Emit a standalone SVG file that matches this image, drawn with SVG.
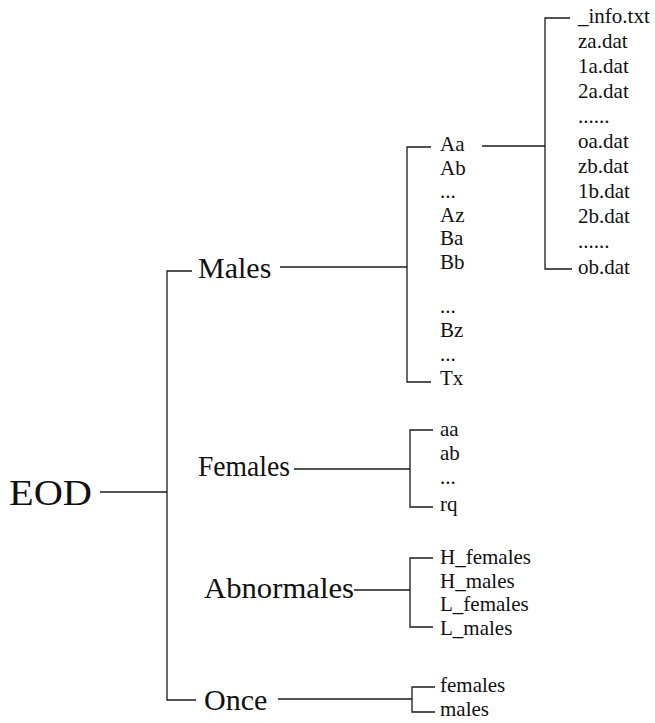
<svg xmlns="http://www.w3.org/2000/svg" width="655" height="723" viewBox="0 0 655 723">
  <style>
    text { font-family: "Liberation Serif", "Times New Roman", serif; fill: #111; }
    .root { font-size: 36px; }
    .cat { font-size: 30px; }
    .leaf { font-size: 21px; }
    .edge { fill: none; stroke: #1a1a1a; stroke-width: 1.3; }
  </style>
  <rect width="655" height="723" fill="#fff"/>

  <!-- connectors: horizontal links and square brackets -->
  <g id="connectors" class="edge">
    <path d="M100,492 H167"/>
    <path d="M192,271 H167 V700 H196"/>
    <path d="M280,267 H407"/>
    <path d="M431,147 H407 V382 H431"/>
    <path d="M482,146 H545"/>
    <path d="M570,18 H545 V269 H572"/>
    <path d="M294,469 H410"/>
    <path d="M433,430 H410 V507 H433"/>
    <path d="M354,590 H410"/>
    <path d="M433,558 H410 V627 H433"/>
    <path d="M278,699 H412"/>
    <path d="M435,687 H412 V712 H435"/>
  </g>

  <g id="eod"><text class="root" x="9" y="505" textLength="83" lengthAdjust="spacingAndGlyphs">EOD</text></g>

  <g id="males"><text class="cat" x="198" y="278">Males</text></g>
  <g id="males-list">
    <text class="leaf" x="440" y="151">Aa</text>
    <text class="leaf" x="440" y="174.5">Ab</text>
    <text class="leaf" x="440" y="198">...</text>
    <text class="leaf" x="440" y="221.5">Az</text>
    <text class="leaf" x="440" y="245">Ba</text>
    <text class="leaf" x="440" y="268.5">Bb</text>
    <text class="leaf" x="440" y="313">...</text>
    <text class="leaf" x="440" y="337">Bz</text>
    <text class="leaf" x="440" y="360.5">...</text>
    <text class="leaf" x="440" y="384.5">Tx</text>
  </g>

  <g id="aa-files">
    <text class="leaf" x="578" y="23">_info.txt</text>
    <text class="leaf" x="578" y="48">za.dat</text>
    <text class="leaf" x="578" y="73">1a.dat</text>
    <text class="leaf" x="578" y="98">2a.dat</text>
    <text class="leaf" x="578" y="123">......</text>
    <text class="leaf" x="578" y="148">oa.dat</text>
    <text class="leaf" x="578" y="173">zb.dat</text>
    <text class="leaf" x="578" y="198">1b.dat</text>
    <text class="leaf" x="578" y="223">2b.dat</text>
    <text class="leaf" x="578" y="248">......</text>
    <text class="leaf" x="578" y="274">ob.dat</text>
  </g>

  <g id="females"><text class="cat" x="198" y="476" textLength="92" lengthAdjust="spacingAndGlyphs">Females</text></g>
  <g id="females-list">
    <text class="leaf" x="440" y="436">aa</text>
    <text class="leaf" x="440" y="460">ab</text>
    <text class="leaf" x="440" y="484">...</text>
    <text class="leaf" x="440" y="511">rq</text>
  </g>

  <g id="abnormales"><text class="cat" x="204" y="598" textLength="150" lengthAdjust="spacingAndGlyphs">Abnormales</text></g>
  <g id="abnormales-list">
    <text class="leaf" x="440" y="564">H_females</text>
    <text class="leaf" x="440" y="587.5">H_males</text>
    <text class="leaf" x="440" y="611">L_females</text>
    <text class="leaf" x="440" y="634.5">L_males</text>
  </g>

  <g id="once"><text class="cat" x="204" y="710">Once</text></g>
  <g id="once-list">
    <text class="leaf" x="440" y="692">females</text>
    <text class="leaf" x="440" y="716">males</text>
  </g>
</svg>
